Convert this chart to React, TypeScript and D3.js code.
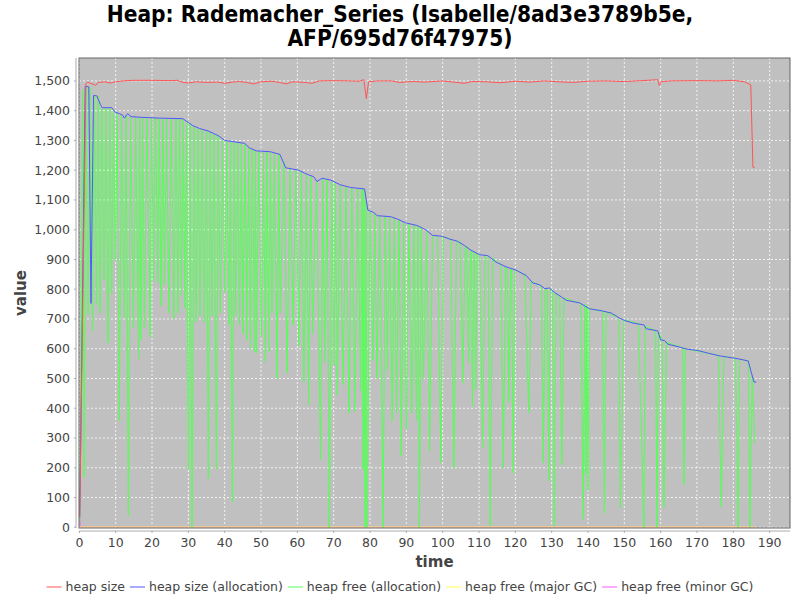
import React from "react";
import * as d3 from "d3";

// heap size (red)
const heapSize: [number, number][] = [
  [0.1, 35], [1.8, 1490], [2.3, 1497], [3, 1492], [4, 1488], [4.5, 1485], [5.2, 1495],
  [7, 1497], [8.5, 1493], [10, 1497], [12, 1500], [15, 1502], [20, 1502], [25, 1501],
  [27, 1502], [28.5, 1495], [30, 1493], [32, 1497], [35, 1495], [38, 1496], [40, 1492],
  [42, 1496], [44, 1498], [46, 1495], [48, 1490], [50, 1497], [53, 1499], [55, 1495],
  [57, 1490], [58.5, 1497], [62, 1495], [64, 1492], [66, 1500], [70, 1501], [74, 1500],
  [77, 1499], [78.3, 1504], [79, 1440], [79.6, 1497], [82, 1500], [86, 1500], [88, 1495],
  [92, 1498], [95, 1496], [100, 1500], [103, 1496], [106, 1492], [108, 1498], [112, 1497],
  [116, 1494], [120, 1499], [124, 1496], [128, 1500], [132, 1497], [136, 1495], [140, 1499],
  [145, 1500], [150, 1498], [155, 1501], [159.2, 1504], [159.6, 1485], [160.2, 1498],
  [163, 1500], [170, 1501], [176, 1500], [180, 1502], [183, 1497], [184.8, 1487],
  [185.4, 1210], [185.9, 1208],
];

// heap size (allocation) (blue)
const heapAlloc: [number, number][] = [
  [0.1, 35], [1.6, 1482], [2.6, 1480], [3.2, 752], [3.9, 1451], [4.8, 1450], [5.8, 1420],
  [6.3, 1410], [8.9, 1410], [9.9, 1395], [11, 1390], [11.9, 1385], [12.4, 1375], [13.3, 1390],
  [14.2, 1380], [16.5, 1378], [22, 1375], [28.5, 1373], [29.4, 1365], [31.2, 1350],
  [33.1, 1340], [35.4, 1332], [37.2, 1322], [38.4, 1315], [40, 1300], [42.3, 1296],
  [45.5, 1290], [46.8, 1275], [48.7, 1265], [52.6, 1262], [55.2, 1253], [56.8, 1208],
  [60.4, 1200], [62.2, 1189], [64.5, 1178], [65.4, 1162], [66.8, 1173], [69.1, 1167],
  [71.8, 1151], [74.6, 1142], [78.5, 1137], [79.4, 1066], [81, 1058], [82, 1047],
  [85.6, 1044], [87.5, 1036], [89.8, 1023], [93, 1014], [95.3, 1000], [97.2, 981],
  [99.9, 978], [101.8, 969], [104.1, 961], [106, 947], [107.8, 931], [110.1, 916],
  [112.4, 913], [114.7, 891], [117.5, 875], [120.2, 864], [123, 846], [124.8, 821],
  [126.7, 815], [128.1, 802], [129.4, 804], [130.8, 789], [132.7, 774], [134, 763],
  [137.7, 754], [140.5, 734], [143.6, 728], [146.4, 720], [148.7, 703], [150.1, 695],
  [152.4, 686], [155.4, 680], [156, 667], [159.2, 660], [160, 630], [161.1, 627],
  [162, 615], [164.8, 607], [167.1, 599], [170.3, 594], [173.1, 585], [176.3, 576],
  [180.4, 568], [181.8, 565], [184.1, 559], [185, 518], [185.7, 488], [186.3, 488],
];

// heap free (allocation) (green)
const heapFree: [number, number][] = [
  [0.1, 20], [0.9, 1470], [1.3, 168], [1.8, 1480], [2.4, 715], [2.9, 1480], [3.6, 660],
  [4.1, 1450], [4.7, 748], [5.2, 1450], [5.7, 720], [6.2, 1412], [6.8, 832], [7.3, 1410],
  [7.9, 620], [8.4, 1410], [8.9, 785], [9.4, 1400], [9.9, 900], [10.4, 1392], [11.0, 357],
  [11.6, 1388], [12.4, 705], [12.9, 1385], [13.5, 37], [14.1, 1382], [14.9, 670],
  [15.5, 1379], [16.3, 565], [16.6, 1378], [16.9, 630], [17.4, 1377], [17.9, 670],
  [18.6, 1377], [19.5, 640], [19.9, 1376], [20.4, 830], [21, 1375], [21.6, 820], [22, 1375],
  [22.5, 745], [23, 1375], [23.4, 815], [24, 1374], [24.6, 720], [25.3, 1374], [26, 700],
  [26.6, 1374], [27.1, 720], [27.6, 1373], [28.1, 780], [28.6, 1372], [29, 735], [29.5, 1365],
  [30, 195], [30.5, 1358], [31, 0], [31.6, 1348], [32.1, 690], [32.7, 1342], [33.2, 710],
  [33.8, 1337], [34.4, 690], [35, 1334], [35.5, 165], [36, 1328], [36.5, 710], [37.1, 1322],
  [37.7, 195], [38.2, 1317], [38.8, 720], [39.4, 1305], [40, 790], [40.6, 1298], [41.1, 680],
  [41.6, 1297], [42.1, 85], [42.6, 1295], [43, 710], [43.6, 1293], [44.1, 680], [44.6, 1291],
  [45, 650], [45.6, 1288], [46.1, 630], [46.6, 1278], [47.1, 600], [47.6, 1270], [48.2, 590],
  [48.5, 1265], [48.7, 585], [49.4, 1264], [50.1, 640], [50.7, 1263], [51.2, 555],
  [51.6, 1263], [52.1, 590], [52.6, 1262], [53, 720], [53.7, 1258], [54.4, 500], [54.9, 1255],
  [55.3, 720], [56.3, 1230], [57.2, 520], [58, 1205], [58.8, 680], [59.6, 1202], [60.4, 610],
  [61.1, 1196], [61.8, 490], [62.5, 1188], [63.1, 412], [63.7, 1180], [64.2, 650],
  [65.3, 1165], [66.4, 228], [67, 1172], [67.5, 555], [68.2, 1170], [68.8, 0], [69.5, 1166],
  [70.1, 545], [70.5, 1160], [71, 445], [71.8, 1151], [72.6, 480], [73.4, 1146], [74.2, 385],
  [75, 1141], [75.8, 390], [76.6, 1139], [77.4, 460], [77.8, 1138], [78.1, 195], [78.3, 1137],
  [78.6, 0], [78.9, 1100], [79.2, 0], [80, 1062], [80.8, 560], [81.3, 1055], [81.9, 500],
  [82.7, 1047], [83.6, 0], [84.2, 1045], [84.8, 530], [85.4, 1044], [86.1, 357], [86.7, 1040],
  [87.3, 385], [88, 1033], [88.6, 240], [89.3, 1025], [90, 330], [90.7, 1020], [91.5, 385],
  [92.1, 1016], [92.8, 360], [93.2, 1014], [93.6, 0], [94.1, 1010], [94.7, 500], [95.6, 998],
  [96.4, 256], [97.2, 981], [98.6, 979], [99.5, 218], [100.2, 977], [102.2, 968], [103.1, 200],
  [103.8, 963], [104.8, 958], [105.5, 485], [106.2, 946], [106.7, 940], [107.1, 552],
  [107.6, 933], [107.9, 930], [108.2, 407], [108.6, 926], [108.8, 924], [109.1, 463],
  [109.5, 921], [110.2, 916], [111, 267], [111.6, 915], [112.5, 912], [113.1, 4], [113.8, 905],
  [116, 882], [116.7, 200], [117.3, 876], [117.8, 874], [118.2, 420], [118.7, 870],
  [119, 868], [119.4, 183], [119.9, 865], [122.6, 848], [123.7, 385], [124.4, 826],
  [127.2, 810], [127.7, 217], [128.2, 802], [128.8, 803], [129.2, 155], [129.6, 802],
  [130.2, 795], [130.7, 4], [131.2, 786], [132.2, 778], [132.8, 211], [133.4, 770],
  [138, 752], [138.7, 27], [139.1, 750], [139.4, 180], [139.7, 745], [140, 124], [140.4, 735],
  [144, 725], [144.5, 49], [145, 723], [148.5, 705], [148.9, 66], [149.9, 697], [153.9, 684],
  [155.4, 0], [155.7, 675], [158.6, 661], [159, 0], [159.4, 659], [160.4, 628], [160.9, 66],
  [161.6, 622], [166.1, 603], [166.4, 144], [166.8, 600], [175.9, 578], [176.7, 70],
  [177.4, 575], [180.6, 568], [181.3, 0], [181.7, 565], [184.1, 559], [184.6, 0],
  [185.2, 510], [185.9, 281],
];

// heap free (major GC) (yellow) and (minor GC) (magenta)
const majorGC: [number, number][] = [[0.1, 1], [60, 1], [120, 1], [186, 1]];
const minorGC: [number, number][] = [[0.1, 40], [0.2, 1], [186, 1]];

const yTicks = d3.range(0, 1501, 100);
const xTicks = d3.range(0, 191, 10);

const titleLines = ["Heap: Rademacher_Series (Isabelle/8ad3e3789b5e,", "AFP/695d76f47975)"];

const series = [
  { name: "heap size", color: "#ff5555", data: heapSize },
  { name: "heap size (allocation)", color: "#5555ff", data: heapAlloc },
  { name: "heap free (allocation)", color: "#55ff55", data: heapFree },
  { name: "heap free (major GC)", color: "#ffff55", data: majorGC },
  { name: "heap free (minor GC)", color: "#ff55ff", data: minorGC },
];

const FONT = "'DejaVu Sans', sans-serif";
const SMALL = 12.5;

function textWidth(s: string, font: string) {
  const c = document.createElement("canvas").getContext("2d");
  if (!c) return s.length * 7;
  c.font = font;
  return c.measureText(s).width;
}

export default function App() {
  const left = 79, right = 790, top = 58, bottom = 528;
  const x = d3.scaleLinear().domain([-0.1, 195.6]).range([left, right]);
  const y = d3.scaleLinear().domain([-2.4, 1577]).range([bottom, top]);
  const line = d3.line<[number, number]>().x((d) => x(d[0])).y((d) => y(d[1]));

  // legend layout
  const widths = series.map((s) => textWidth(s.name, `${SMALL}px 'DejaVu Sans'`));
  const itemW = widths.map((w) => 19 + w);
  const total = d3.sum(itemW) + 5 * (series.length - 1);
  let lx = 400 - total / 2;
  const legendX = itemW.map((w) => {
    const p = lx;
    lx += w + 5;
    return p;
  });

  const axisY = left - 3;
  const axisX = bottom + 3;

  return (
    <svg width={800} height={600} style={{ position: "absolute", left: 0, top: 0, background: "#fff" }}>
      <defs>
        <clipPath id="plot">
          <rect x={left} y={top} width={right - left} height={bottom - top} />
        </clipPath>
      </defs>
      {titleLines.map((t, i) => (
        <text key={i} x={400} y={22 + i * 24} textAnchor="middle"
          fontFamily="'DejaVu Sans Condensed', 'DejaVu Sans', sans-serif" fontStretch="condensed"
          fontWeight="bold" fontSize={22.5} fill="#000">{t}</text>
      ))}
      <rect x={left} y={top} width={right - left} height={bottom - top} fill="#c0c0c0" />
      {xTicks.map((t) => (
        <line key={"gx" + t} x1={x(t)} x2={x(t)} y1={top} y2={bottom} stroke="#fff" strokeWidth={0.8} strokeDasharray="2,2" />
      ))}
      {yTicks.map((t) => (
        <line key={"gy" + t} x1={left} x2={right} y1={y(t)} y2={y(t)} stroke="#fff" strokeWidth={0.8} strokeDasharray="2,2" />
      ))}
      <g clipPath="url(#plot)" fill="none" strokeWidth={1}>
        {series.slice().reverse().map((s) => (
          <path key={s.name} d={line(s.data) || ""} stroke={s.color} />
        ))}
      </g>
      <rect x={left} y={top} width={right - left} height={bottom - top} fill="none" stroke="#666" strokeWidth={1} />
      <line x1={axisY} x2={axisY} y1={top} y2={bottom} stroke="#aaa" />
      <line x1={left} x2={right} y1={axisX} y2={axisX} stroke="#aaa" />
      {yTicks.map((t) => (
        <g key={"ty" + t}>
          <line x1={axisY - 2} x2={axisY} y1={y(t)} y2={y(t)} stroke="#aaa" />
          <text x={axisY - 6} y={y(t)} dy="0.35em" textAnchor="end" fontFamily={FONT} fontSize={SMALL} fill="#444">
            {d3.format(",")(t)}
          </text>
        </g>
      ))}
      {xTicks.map((t) => (
        <g key={"tx" + t}>
          <line x1={x(t)} x2={x(t)} y1={axisX} y2={axisX + 2} stroke="#aaa" />
          <text x={x(t)} y={axisX + 16} textAnchor="middle" fontFamily={FONT} fontSize={SMALL} fill="#444">{t}</text>
        </g>
      ))}
      <text x={(left + right) / 2} y={567} textAnchor="middle" fontFamily={FONT} fontWeight="bold" fontSize={15} fill="#444">time</text>
      <text transform={`translate(26,${(top + bottom) / 2}) rotate(-90)`} textAnchor="middle" fontFamily={FONT}
        fontWeight="bold" fontSize={15} fill="#444">value</text>
      {series.map((s, i) => (
        <g key={"lg" + s.name} transform={`translate(${legendX[i]},587)`}>
          <line x1={0} x2={15} y1={0} y2={0} stroke={s.color} strokeWidth={1} />
          <text x={19} y={0} dy="0.35em" fontFamily={FONT} fontSize={SMALL} fill="#444">{s.name}</text>
        </g>
      ))}
    </svg>
  );
}
